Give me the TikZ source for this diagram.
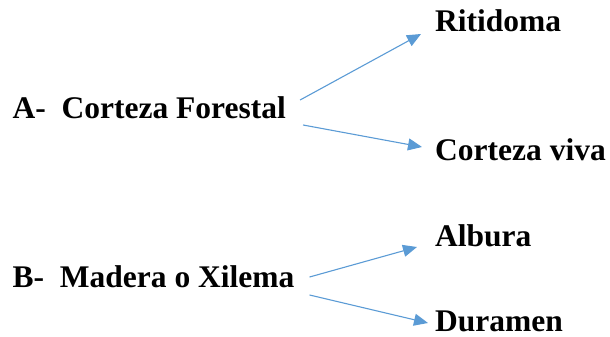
\documentclass[tikz,border=0pt]{standalone}
\usepackage{fontspec}
\setmainfont{Liberation Serif}
\usetikzlibrary{arrows.meta}
\definecolor{azulflecha}{HTML}{5B9BD5}
\tikzset{
    texto/.style={inner sep=0pt,anchor=base west,font=\fontsize{31.5}{36}\selectfont\bfseries},
    flecha/.style={draw=azulflecha,line width=1.1pt,-{Triangle[length=14pt,width=12pt]},shorten >=0pt},
}
\begin{document}
\begin{tikzpicture}[x=1pt,y=-1pt]
\useasboundingbox (0,0) rectangle (610,337);
\node[texto] (corteza) at (12.5,118) {A-\hspace{0.5em}Corteza Forestal};
\node[texto] (ritidoma) at (435,32) {Ritidoma};
\node[texto] (viva) at (435,160) {Corteza viva};
\node[texto] (madera) at (12.5,287) {B-\hspace{0.5em}Madera o Xilema};
\node[texto] (albura) at (435,246) {Albura};
\node[texto] (duramen) at (435,331) {Duramen};
\draw[flecha] ([shift={(14pt,18pt)}]corteza.base east) -- ([shift={(-14pt,-2pt)}]ritidoma.base west);
\draw[flecha] ([shift={(17pt,-7pt)}]corteza.base east) -- ([shift={(-13pt,13pt)}]viva.base west);
%\draw (madera.east) -- (albura.west);
\draw[flecha] ([shift={(15pt,10pt)}]madera.base east) -- ([shift={(-18pt,-1pt)}]albura.base west);
\draw[flecha] ([shift={(15pt,-8pt)}]madera.base east) -- ([shift={(-7pt,8pt)}]duramen.base west);
\end{tikzpicture}
\end{document}
